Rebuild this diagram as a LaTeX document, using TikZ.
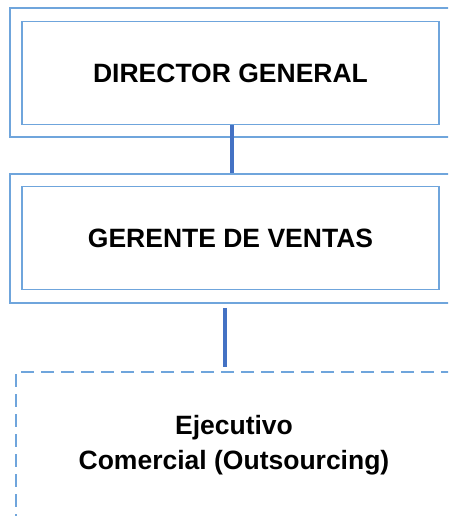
\documentclass[tikz,border=0pt]{standalone}
\usepackage{fontspec}
\setmainfont{Liberation Sans}
\usetikzlibrary{positioning}
\definecolor{marco}{RGB}{111,165,220}
\definecolor{linea}{RGB}{68,114,196}

\begin{document}
\begin{tikzpicture}[x=1pt, y=-1pt,
      marco/.style = {shape=rectangle, draw=marco, line width=1.6pt,
        minimum width=440pt, minimum height=129pt, inner sep=0pt},
      cargo/.style = {shape=rectangle, draw=marco, line width=1.6pt,
        minimum width=417pt, minimum height=103pt, inner sep=0pt,
        align=center, font=\fontsize{26.5}{35}\selectfont\bfseries},
      externo/.style = {cargo, dash pattern=on 13pt off 7pt,
        minimum width=436pt, minimum height=146pt},
      conector/.style = {draw=linea, line width=4pt}]
      \useasboundingbox (0,0) rectangle (448,516);
      \clip (0,0) rectangle (448,516);
      \node[marco] (dirMarco) at (230,72.5) {};
      \node[cargo] (dir) at (230.5,73) {DIRECTOR GENERAL};
      \node[marco] (gerMarco) at (230,238.5) {};
      \node[cargo] (ger) at (230.5,238) {GERENTE DE VENTAS};
      \node[externo] (ejec) at (234,445) {Ejecutivo\\Comercial (Outsourcing)};
      \draw[conector] ([xshift=1.5pt]dir.south) -- ([xshift=2pt]gerMarco.north);
      \draw[conector] ([xshift=-5pt,yshift=-4pt]gerMarco.south) -- ([xshift=-9pt,yshift=4pt]ejec.north);
  \end{tikzpicture}
\end{document}
